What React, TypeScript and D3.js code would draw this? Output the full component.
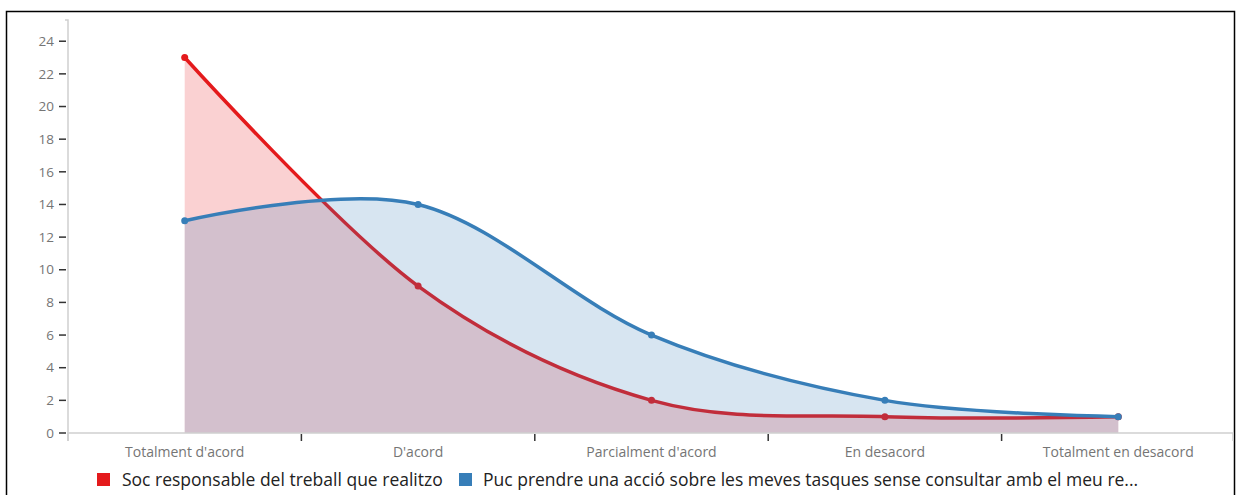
import React from "react";
import * as d3 from "d3";

const categories = [
  "Totalment d'acord",
  "D'acord",
  "Parcialment d'acord",
  "En desacord",
  "Totalment en desacord",
];
const seriesNames = [
  "Soc responsable del treball que realitzo",
  "Puc prendre una acció sobre les meves tasques sense consultar amb el meu re...",
];
const redValues = [23, 9, 2, 1, 1];
const blueValues = [13, 14, 6, 2, 1];
const yTicks = [0, 2, 4, 6, 8, 10, 12, 14, 16, 18, 20, 22, 24];
const colors = ["#e41a1c", "#377eb8"];

const W = 1239;
const H = 495;
const left = 68;
const right = 1235;
const bottom = 433;
const top = 20;

export default function App() {
  const x = d3.scaleBand<string>().domain(categories).range([left, right]).padding(0);
  const yMax = d3.max([...redValues, ...blueValues])! * 1.1;
  const y = d3.scaleLinear().domain([0, yMax]).range([bottom, top]);
  const cx = (c: string) => x(c)! + x.bandwidth() / 2;

  const series = [redValues, blueValues];
  const line = d3
    .line<number>()
    .x((_, i) => cx(categories[i]))
    .y((d) => y(d))
    .curve(d3.curveCardinal);
  const area = d3
    .area<number>()
    .x((_, i) => cx(categories[i]))
    .y0(y(0))
    .y1((d) => y(d))
    .curve(d3.curveCardinal);

  const font = "'Open Sans', Roboto, sans-serif";
  const axisGray = "#d0d0d0";
  const labelGray = "#757575";

  const bounds = x.range();
  const innerTicks = categories.slice(1).map((c) => x(c)!);

  return (
    <svg
      width={W}
      height={H}
      style={{ position: "absolute", left: 0, top: 0, background: "#fff" }}
    >
      <rect x={6.5} y={11.5} width={1228} height={500} fill="#fff" stroke="#000" strokeWidth={1.5} />

      {series.map((vals, si) => (
        <g key={si}>
          <path d={area(vals)!} fill={colors[si]} fillOpacity={0.2} stroke="none" />
          <path d={line(vals)!} fill="none" stroke={colors[si]} strokeWidth={3.5} />
          {vals.map((v, i) => (
            <circle key={i} cx={cx(categories[i])} cy={y(v)} r={3.5} fill={colors[si]} />
          ))}
        </g>
      ))}

      {/* Y axis */}
      <path
        d={`M${left - 3},${top}H${left}V${bottom + 8}`}
        fill="none"
        stroke={axisGray}
        strokeWidth={1.5}
      />
      {yTicks.map((t) => (
        <g key={t} transform={`translate(0,${y(t)})`}>
          <line x1={left - 9} x2={left - 2} stroke="#333" strokeWidth={1.5} />
          <text
            x={left - 14}
            dy="0.35em"
            textAnchor="end"
            fontFamily={font}
            fontSize={13.5}
            fill={labelGray}
          >
            {t}
          </text>
        </g>
      ))}

      {/* X axis */}
      <path
        d={`M${bounds[0]},${bottom + 8}V${bottom}H${bounds[1] - 2}V${bottom + 8}`}
        fill="none"
        stroke={axisGray}
        strokeWidth={1.5}
      />
      {innerTicks.map((t, i) => (
        <line key={i} x1={t} x2={t} y1={bottom + 1} y2={bottom + 8} stroke="#333" strokeWidth={1.5} />
      ))}
      {categories.map((c) => (
        <text
          key={c}
          x={cx(c)}
          y={457}
          textAnchor="middle"
          fontFamily={font}
          fontSize={14}
          fill={labelGray}
        >
          {c}
        </text>
      ))}

      {/* Legend */}
      <g>
        <rect x={97} y={473} width={13} height={13} fill={colors[0]} />
        <text x={122} y={486} fontFamily={font} fontSize={17.5} fill="#222">
          {seriesNames[0]}
        </text>
        <rect x={459} y={473} width={13} height={13} fill={colors[1]} />
        <text x={483} y={486} fontFamily={font} fontSize={17.5} fill="#222">
          {seriesNames[1]}
        </text>
      </g>
    </svg>
  );
}
